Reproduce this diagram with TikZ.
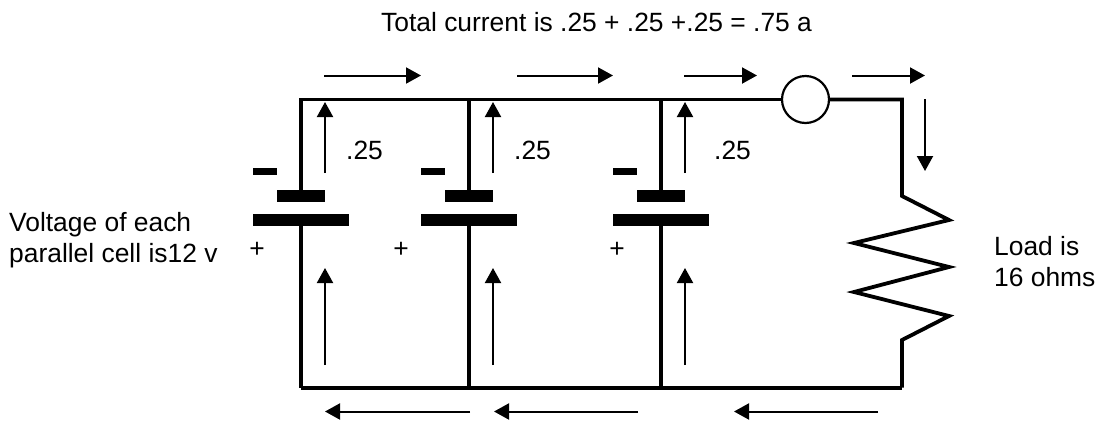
\documentclass[tikz,border=0pt]{standalone}
\usepackage{fontspec}
\setmainfont{Liberation Sans}
\usetikzlibrary{arrows.meta}
\tikzset{
  wire/.style={line width=3.8pt,line cap=square},
  flow/.style={line width=2pt,-{Triangle[length=15pt,width=16pt]}},
  plate/.style={fill=black,draw=none,minimum height=12pt,inner sep=0pt},
  lbl/.style={font=\fontsize{26.4}{30}\selectfont,inner sep=0pt},
}
\begin{document}
\begin{tikzpicture}[x=1pt,y=-1pt]
\useasboundingbox (0,0) rectangle (1097,421);
\fill[white] (0,0) rectangle (1097,421);
% junctions
\coordinate (tl) at (301,99.5);
\coordinate (t2) at (469,99.5);
\coordinate (t3) at (661,99.5);
\coordinate (tr) at (902,99.5);
\coordinate (bl) at (301,387.5);
\coordinate (b2) at (469,387.5);
\coordinate (b3) at (661,387.5);
\coordinate (br) at (902,387.5);
% batteries
\foreach \n/\x in {a/301,b/469,c/661}{
  \node[plate,minimum width=48pt] (s\n) at (\x,196) {};
  \node[plate,minimum width=96pt] (l\n) at (\x,220) {};
  \node[fill=black,inner sep=0pt,minimum width=24pt,minimum height=7pt] (m\n) at (\x-36,171.5) {};
}
\node[circle,draw,line width=2.2pt,minimum size=47pt,inner sep=0pt] (meter) at (805.5,99.5) {};
% wires
\draw[wire] (bl) -- (la.south);
\draw[wire] (sa.north) -- (tl) -- (meter.west);
\draw[wire] (b2) -- (lb.south);
\draw[wire] (sb.north) -- (t2);
\draw[wire] (b3) -- (lc.south);
\draw[wire] (sc.north) -- (t3);
\draw[wire,line join=miter] (meter.east) -- (tr) -- (902,196) -- (949,220) -- (854,243) -- (949,267) -- (854,292) -- (949,316) -- (902,340) -- (br);
\draw[line width=4pt] (bl) -- (br);
% flow arrows
\coordinate (f1s) at (324,75.5); \coordinate (f1e) at (421,75.5);
\coordinate (f2s) at (517,75.5); \coordinate (f2e) at (613,75.5);
\coordinate (f3s) at (684,75.5); \coordinate (f3e) at (757,75.5);
\coordinate (f4s) at (852,75.5); \coordinate (f4e) at (925,75.5);
\draw[flow] (f1s) -- (f1e);
\draw[flow] (f2s) -- (f2e);
\draw[flow] (f3s) -- (f3e);
\draw[flow] (f4s) -- (f4e);
\coordinate (d1) at (925,99); \coordinate (d2) at (925,171);
\draw[flow] (d1) -- (d2);
\foreach \n/\x in {a/325,b/493,c/685}{
  \coordinate (ua\n) at (\x,173); \coordinate (ub\n) at (\x,102);
  \draw[flow] (ua\n) -- (ub\n);
  \coordinate (va\n) at (\x,365); \coordinate (vb\n) at (\x,268);
  \draw[flow] (va\n) -- (vb\n);
}
\coordinate (r1s) at (470,411.5); \coordinate (r1e) at (325,411.5);
\coordinate (r2s) at (638,411.5); \coordinate (r2e) at (494,411.5);
\coordinate (r3s) at (878,411.5); \coordinate (r3e) at (734,411.5);
\draw[flow] (r1s) -- (r1e);
\draw[flow] (r2s) -- (r2e);
\draw[flow] (r3s) -- (r3e);
% labels
\node[lbl,anchor=base west] (title) at (381,31) {Total current is .25 + .25 +.25 = .75 a};
\node[lbl,anchor=base west] (c1) at (346,159) {.25};
\node[lbl,anchor=base west] (c2) at (514,159) {.25};
\node[lbl,anchor=base west] (c3) at (714,159) {.25};
\node[lbl,anchor=base] (p1) at (257,257) {+};
\node[lbl,anchor=base] (p2) at (401,257) {+};
\node[lbl,anchor=base] (p3) at (617,257) {+};
\node[lbl,anchor=base west] (v1) at (9,231) {Voltage of each};
\node[lbl,anchor=base west] (v2) at (9,262) {parallel cell is12 v};
\node[lbl,anchor=base west] (l1) at (994,255) {Load is};
\node[lbl,anchor=base west] (l2) at (994,286) {16 ohms};
\end{tikzpicture}
\end{document}
